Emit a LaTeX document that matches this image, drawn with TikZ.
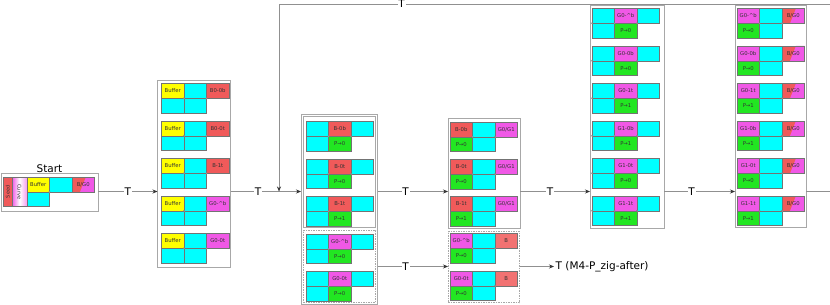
\documentclass[tikz,border=0pt]{standalone}
\usepackage{fontspec}
\setmainfont{DejaVu Sans}
\usetikzlibrary{arrows.meta,calc}
\definecolor{cR}{HTML}{F05A5A}
\definecolor{cRl}{HTML}{F27272}
\definecolor{cM}{HTML}{F058E6}
\definecolor{cG}{HTML}{22E622}
\definecolor{cC}{HTML}{00FFFF}
\definecolor{cY}{HTML}{FFFF00}
\definecolor{cBox}{HTML}{A8A8A8}
\definecolor{cLine}{HTML}{909090}
\tikzset{
 cellbox/.style={draw=black!55, line width=0.4pt, minimum width=22.5pt, minimum height=14.8pt,
   inner sep=0pt, outer sep=0pt, anchor=north west, font=\fontsize{5.3}{6}\selectfont, text=black!80},
 splitBG/.style={fill=cR, path picture={\fill[cM]
   ($(path picture bounding box.south west)!0.36!(path picture bounding box.south east)$) --
   ($(path picture bounding box.north west)!0.62!(path picture bounding box.north east)$) --
   (path picture bounding box.north east) -- (path picture bounding box.south east) -- cycle;}},
 grpbox/.style={draw=cBox, line width=0.7pt, inner sep=0pt, outer sep=0pt, anchor=north west},
 dbox/.style={dashed, dash pattern=on 1.5pt off 1pt},
 conn/.style={draw=cLine, line width=0.6pt, -{Stealth[length=5pt,width=4pt,color=black!80]}},
 tlbl/.style={fill=white, inner sep=0.8pt, font=\fontsize{10.5}{12}\selectfont},
 dotmark/.style={fill=white, draw=black!60, line width=0.2pt}
}
\newcommand\tileRowA[9]{%
 \node[cellbox,#4] (#1a) at (#2,#3) {#5};
 \node[cellbox,#6] (#1b) at (#2+22.5,#3) {#7};
 \node[cellbox,#8] (#1c) at (#2+45,#3) {#9};}
\newcommand\tileRowB[7]{%
 \node[cellbox,#4] (#1d) at (#2,#3+14.8) {#5};
 \node[cellbox,#6] (#1e) at (#2+22.5,#3+14.8) {#7};
 \filldraw[dotmark] (#1d.north east) circle (0.7pt);
 \filldraw[dotmark] (#1e.north east) circle (0.7pt);}
\begin{document}
\begin{tikzpicture}[x=1pt,y=-1pt]
\useasboundingbox (0,0) rectangle (830,305);
\coordinate (mainY) at (0,191.5);
\coordinate (dashY) at (0,266.5);

% ---------- Start ----------
\node[grpbox, minimum width=97pt, minimum height=37.5pt] (S) at (1,173.5) {};
\node[anchor=south, inner sep=1pt, font=\fontsize{10.5}{12}\selectfont] (startlbl) at (S.north) {Start};
\node[cellbox, fill=cR, minimum width=8.5pt, minimum height=29.6pt, font=\fontsize{5}{6}\selectfont] (seed) at (3.5,177) {\rotatebox{90}{Seed}};
\node[cellbox, left color=cM, right color=cM!60, middle color=white, minimum width=15pt, minimum height=29.6pt, font=\fontsize{5}{6}\selectfont] (curve) at (12,177) {\rotatebox{-90}{Curve}};
\tileRowA{st}{27}{177}{fill=cY}{Buffer}{fill=cC}{}{splitBG}{B/G0}
\node[cellbox, fill=cC] (std) at (27,191.8) {};
\filldraw[dotmark] (std.north east) circle (0.7pt);

% ---------- Group 1 ----------
\node[grpbox, minimum width=73pt, minimum height=187pt] (G1) at (157.5,80) {};
\foreach \i/\yy/\fc/\lb in {1/83.5/cR/B0-0b, 2/121/cR/B0-0t, 3/158.5/cR/B-1t,
   4/196/cM/G0-\textasciicircum b, 5/233.5/cM/G0-0t}{
 \tileRowA{ga\i}{161.5}{\yy}{fill=cY}{Buffer}{fill=cC}{}{fill=\fc}{\lb}
 \tileRowB{ga\i}{161.5}{\yy}{fill=cC}{}{fill=cC}{}
}

% ---------- Group 2 ----------
\node[grpbox, minimum width=76.5pt, minimum height=190pt] (G2) at (301,114) {};
\node[grpbox, minimum width=72.5pt, minimum height=111.5pt] (G2s) at (303,116) {};
\node[grpbox, dbox, minimum width=72.5pt, minimum height=71.5pt] (G2d) at (303,230.5) {};
\foreach \i/\yy/\fc/\lb/\pv in {1/121.5/cR/B-0b/0, 2/159/cR/B-0t/0, 3/196.5/cR/B-1t/1,
   4/234/cM/G0-\textasciicircum b/0, 5/271.5/cM/G0-0t/0}{
 \tileRowA{gb\i}{306}{\yy}{fill=cC}{}{fill=\fc}{\lb}{fill=cC}{}
 \tileRowB{gb\i}{306}{\yy}{fill=cC}{}{fill=cG}{P→\pv}
}

% ---------- Group 3 ----------
\node[grpbox, minimum width=72pt, minimum height=110.5pt] (G3s) at (448,118) {};
\node[grpbox, dbox, minimum width=71.5pt, minimum height=71pt] (G3d) at (448,231.5) {};
\foreach \i/\yy/\lb/\pv in {1/122/B-0b/0, 2/159.25/B-0t/0, 3/196.5/B-1t/1}{
 \tileRowA{gc\i}{450}{\yy}{fill=cR}{\lb}{fill=cC}{}{fill=cM}{G0/G1}
 \tileRowB{gc\i}{450}{\yy}{fill=cG}{P→\pv}{fill=cC}{}
}
\foreach \i/\yy/\lb in {4/233.5/G0-\textasciicircum b, 5/271/G0-0t}{
 \tileRowA{gc\i}{450}{\yy}{fill=cM}{\lb}{fill=cC}{}{fill=cRl}{B}
 \tileRowB{gc\i}{450}{\yy}{fill=cG}{P→0}{fill=cC}{}
}

% ---------- Group 4 ----------
\node[grpbox, minimum width=74pt, minimum height=222.5pt] (G4) at (590,5.5) {};
\foreach \i/\yy/\lb/\pv in {1/8.5/G0-\textasciicircum b/0, 2/46/G0-0b/0, 3/83.5/G0-1t/1,
   4/121/G1-0b/1, 5/158.5/G1-0t/0, 6/196/G1-1t/1}{
 \tileRowA{gd\i}{592}{\yy}{fill=cC}{}{fill=cM}{\lb}{fill=cC}{}
 \tileRowB{gd\i}{592}{\yy}{fill=cC}{}{fill=cG}{P→\pv}
 \filldraw[dotmark] (gd\i d.north west) circle (0.7pt);
}

% ---------- Group 5 ----------
\node[grpbox, minimum width=71pt, minimum height=222pt] (G5) at (735,5.5) {};
\foreach \i/\yy/\lb/\pv in {1/8.5/G0-\textasciicircum b/0, 2/46/G0-0b/0, 3/83.5/G0-1t/1,
   4/121/G1-0b/1, 5/158.5/G1-0t/0, 6/196/G1-1t/1}{
 \tileRowA{ge\i}{737}{\yy}{fill=cM}{\lb}{fill=cC}{}{splitBG}{B/G0}
 \tileRowB{ge\i}{737}{\yy}{fill=cG}{P→\pv}{fill=cC}{}
}

% ---------- connectors ----------
\coordinate (fbR) at (836,191.5);
\coordinate (fbTR) at (836,4);
\coordinate (fbTL) at (279,4);
\coordinate (fbJ) at (279,191.5);
\node[anchor=west, inner sep=1.5pt, font=\fontsize{10.5}{12}\selectfont] (endlbl) at (554,266.5) {T (M4-P\_zig-after)};

\draw[conn] (S.east |- mainY) -- node[tlbl]{T} (G1.west |- mainY);
\draw[conn] (G1.east |- mainY) -- node[tlbl,pos=0.39]{T} (G2.west |- mainY);
\draw[conn] (G2.east |- mainY) -- node[tlbl,pos=0.4]{T} (G3s.west |- mainY);
\draw[conn] (G3s.east |- mainY) -- node[tlbl,pos=0.43]{T} (G4.west |- mainY);
\draw[conn] (G4.east |- mainY) -- node[tlbl,pos=0.39]{T} (G5.west |- mainY);
\draw[conn] (G2.east |- dashY) -- node[tlbl,pos=0.4]{T} (G3d.west |- dashY);
\draw[conn] (G3d.east |- dashY) -- (endlbl.west);
\draw[conn] (G5.east |- mainY) -- (fbR) -- (fbTR) -- node[tlbl,pos=0.78]{T} (fbTL) -- (fbJ);
\end{tikzpicture}
\end{document}
